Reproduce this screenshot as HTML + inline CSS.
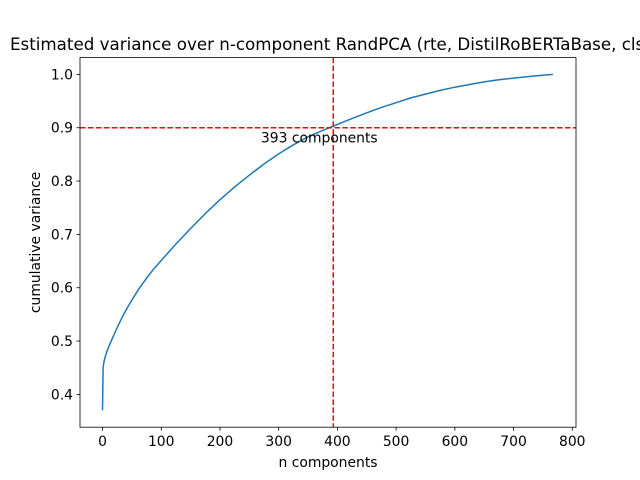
<!DOCTYPE html>
<html><head><meta charset="utf-8"><style>body{margin:0;background:#fff}svg{display:block;font-family:"DejaVu Sans","Liberation Sans",sans-serif}</style></head>
<body>
<svg id="chart" width="640" height="480" viewBox="0 0 640 480">
<rect width="640" height="480" fill="#fff"/>
<g id="plot"></g>
</svg>
<script>
const xs=[0,1,2,3,5,8,12,16,20,27,35,42,50,62,75,87,100,125,150,175,200,225,250,275,300,325,350,375,393,420,450,475,500,525,550,575,600,625,650,675,700,735,767];
const ys=[0.37,0.45,0.458,0.464,0.472,0.482,0.493,0.503,0.513,0.53,0.548,0.562,0.577,0.598,0.618,0.635,0.651,0.682,0.711,0.739,0.765,0.789,0.811,0.832,0.851,0.868,0.883,0.895,0.903,0.915,0.928,0.938,0.947,0.956,0.963,0.97,0.976,0.981,0.986,0.99,0.993,0.997,1.0];
const xTicks=[0,100,200,300,400,500,600,700,800];
const yTicks=[0.4,0.5,0.6,0.7,0.8,0.9,1.0];
const threshold=[0.9];
const nComp=[393];
const L=80,R=576,T=57.6,B=427.2;
const x0=-38.35,x1=806.35,y0=0.3385,y1=1.0315;
const X=v=>L+(v-x0)/(x1-x0)*(R-L);
const Y=v=>B-(v-y0)/(y1-y0)*(B-T);
const g=document.getElementById('plot');
const NS='http://www.w3.org/2000/svg';
function mk(t,a,txt){const e=document.createElementNS(NS,t);for(const k in a)e.setAttribute(k,a[k]);if(txt!==undefined)e.textContent=txt;g.appendChild(e);return e;}
let d=xs.map((v,i)=>(i?'L':'M')+X(v).toFixed(2)+','+Y(ys[i]).toFixed(2)).join('');
const line=mk('path',{d:d,fill:'none',stroke:'#1f77b4','stroke-width':1.5,'stroke-linejoin':'round'});


const h=mk('line',{x1:L,x2:R,y1:Y(threshold[0]),y2:Y(threshold[0]),stroke:'red','stroke-width':1.5,'stroke-dasharray':'5.55,2.4'});


const v=mk('line',{x1:X(nComp[0]),x2:X(nComp[0]),y1:T,y2:B,stroke:'red','stroke-width':1.5,'stroke-dasharray':'5.55,2.4'});


const ann=mk('text',{x:X(nComp[0])-14,y:Y(threshold[0])+15,'text-anchor':'middle','font-size':13.9},nComp[0]+' components');


const fr=mk('rect',{x:L,y:T,width:R-L,height:B-T,fill:'none',stroke:'#000','stroke-width':0.8});


xTicks.forEach(t=>{const p=X(t);
 const tk=mk('line',{x1:p,x2:p,y1:B,y2:B+3.5,stroke:'#000','stroke-width':0.8});
 
 
 const tl=mk('text',{x:p,y:B+19,'text-anchor':'middle','font-size':13.9},String(t));
 
 });
yTicks.forEach(t=>{const p=Y(t);
 const tk=mk('line',{x1:L-3.5,x2:L,y1:p,y2:p,stroke:'#000','stroke-width':0.8});
 
 
 const tl=mk('text',{x:L-7,y:p+5,'text-anchor':'end','font-size':13.9},t.toFixed(1));
 
 });
const xt=mk('text',{x:(L+R)/2,y:467,'text-anchor':'middle','font-size':13.9},'n components');


const yt=mk('text',{x:0,y:0,'text-anchor':'middle','font-size':13.9,transform:'translate(40,'+((T+B)/2)+') rotate(-90)'},'cumulative variance');


const tt=mk('text',{x:10,y:50,'font-size':16.7},'Estimated variance over n-component RandPCA (rte, DistilRoBERTaBase, cls)');


</script>
</body></html>
